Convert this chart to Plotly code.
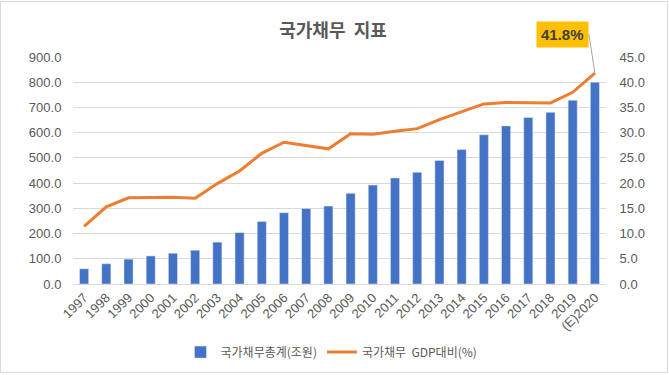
import plotly.graph_objects as go

years = ["1997", "1998", "1999", "2000", "2001", "2002", "2003", "2004", "2005", "2006",
         "2007", "2008", "2009", "2010", "2011", "2012", "2013", "2014", "2015", "2016",
         "2017", "2018", "2019", "(E)2020"]
debt_total = [60.3, 80.4, 98.6, 111.2, 121.8, 133.8, 165.8, 203.7, 247.9, 282.7,
              299.2, 309.0, 359.6, 392.2, 420.5, 443.1, 489.8, 533.2, 591.5, 626.9,
              660.2, 680.5, 728.8, 800.0]
debt_ratio = [11.4, 15.3, 17.1, 17.1, 17.2, 17.0, 19.9, 22.4, 25.9, 28.1,
              27.5, 26.8, 29.8, 29.7, 30.3, 30.8, 32.6, 34.1, 35.7, 36.0,
              36.0, 35.9, 38.0, 41.8]
left_ticks = [0, 100, 200, 300, 400, 500, 600, 700, 800, 900]
right_ticks = [0, 5, 10, 15, 20, 25, 30, 35, 40, 45]

FONT = "Liberation Sans, Noto Sans CJK KR, sans-serif"
KFONT = "Noto Sans CJK KR, Liberation Sans, sans-serif"
GRAY = "#595959"

fig = go.Figure()
fig.add_trace(go.Bar(x=years, y=debt_total, name="국가채무총계(조원)",
                     marker_color="#4472C4", yaxis="y"))
fig.add_trace(go.Scatter(x=years, y=debt_ratio, name="국가채무\u00a0\u00a0GDP대비(%)",
                         mode="lines", line=dict(color="#ED7D31", width=3),
                         yaxis="y2"))

fig.add_annotation(x=years[-1], y=debt_ratio[-1], xref="x", yref="y2",
                   text="<b>%.1f%%</b>" % debt_ratio[-1],
                   showarrow=True, arrowhead=0, arrowwidth=1, arrowcolor="#A6A6A6",
                   ax=-6, ay=-39, xanchor="right", yanchor="middle",
                   bgcolor="#FFC000", borderpad=4,
                   font=dict(family=FONT, size=15, color="#404040"))

W, H = 669, 375
ml, mr, mt, mb = 73, 63, 57, 91
pw, ph = W - ml - mr, H - mt - mb
fig.add_shape(type="rect", xref="paper", yref="paper",
              x0=-(ml - 0.5) / pw, x1=1 + (mr - 1.5) / pw,
              y0=-(mb - 2.5) / ph, y1=1 + (mt - 1.5) / ph,
              line=dict(color="#D9D9D9", width=1), layer="below")

fig.update_layout(
    width=W, height=H,
    margin=dict(l=ml, r=mr, t=mt, b=mb, autoexpand=False),
    paper_bgcolor="white", plot_bgcolor="white",
    bargap=0.59,
    title=dict(text="<b>국가채무\u00a0\u00a0지표</b>", x=333 / W, xanchor="center",
               y=1 - 31 / H, yanchor="middle", automargin=False,
               font=dict(family=KFONT, size=18, color=GRAY)),
    xaxis=dict(type="category", tickangle=-45, showgrid=False, automargin=False,
               showline=True, linecolor="#D9D9D9", ticks="",
               tickfont=dict(family=FONT, size=13, color=GRAY)),
    yaxis=dict(range=[0, 900], tickvals=left_ticks, tickformat=".1f", automargin=False,
               showgrid=True, gridcolor="#D9D9D9", zeroline=False,
               ticks="outside", ticklen=8, tickcolor="white",
               tickfont=dict(family=FONT, size=13, color=GRAY)),
    yaxis2=dict(range=[0, 45], tickvals=right_ticks, tickformat=".1f", automargin=False,
                overlaying="y", side="right", showgrid=False, zeroline=False,
                ticks="outside", ticklen=10, tickcolor="white",
                tickfont=dict(family=FONT, size=13, color=GRAY)),
    legend=dict(orientation="h", x=0.485, xanchor="center", y=-0.30, yanchor="middle",
                font=dict(family=KFONT, size=12, color=GRAY), itemwidth=30,
                tracegroupgap=10),
    showlegend=True,
)

fig.write_html("out.html", config={"displayModeBar": False},
               post_script="document.body.style.margin='0';")
